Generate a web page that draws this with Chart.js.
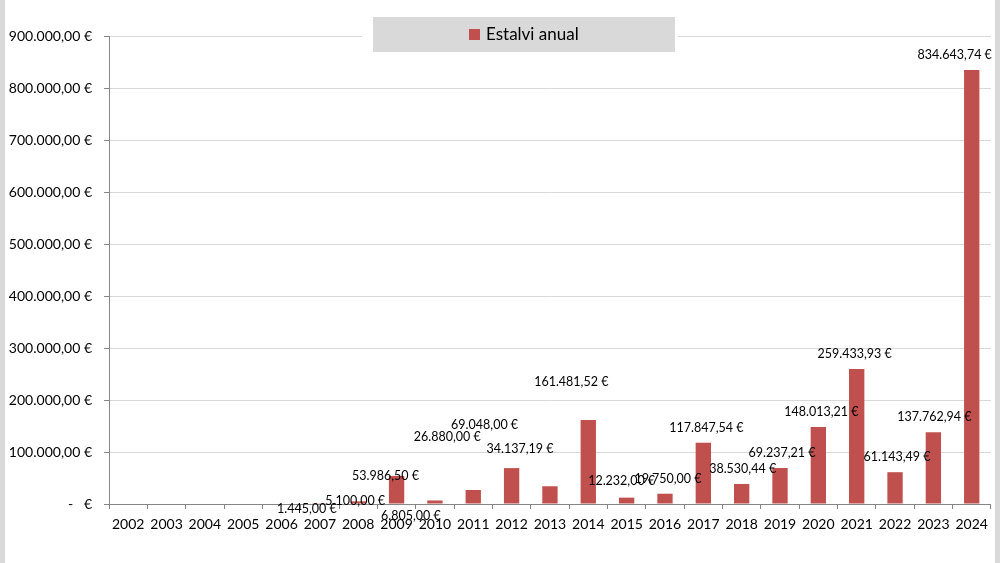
<!DOCTYPE html>
<html lang="ca">
<head>
  <meta charset="UTF-8" />
  <title>Estalvi anual</title>
  <script src="https://cdn.jsdelivr.net/npm/chart.js"></script>
  <style>
    html, body {
      margin: 0;
      padding: 0;
      background: #d9d9d9;
    }
    .wrap {
      position: absolute;
      left: 5px;
      top: 0;
      width: 990px;
      height: 563px;
      background: #ffffff;
    }
  </style>
</head>
<body>
  <div class="wrap">
    <canvas id="savingsChart" width="990" height="563"></canvas>
  </div>

  <script>
    const years = ['2002', '2003', '2004', '2005', '2006', '2007', '2008', '2009', '2010', '2011', '2012',
      '2013', '2014', '2015', '2016', '2017', '2018', '2019', '2020', '2021', '2022', '2023', '2024'];

    const savings = [null, null, null, null, null, 1445, 5100, 53986.5, 6805, 26880, 69048,
      34137.19, 161481.52, 12232, 19750, 117847.54, 38530.44, 69237.21, 148013.21, 259433.93,
      61143.49, 137762.94, 834643.74];

    const yTickValues = [0, 100000, 200000, 300000, 400000, 500000, 600000, 700000, 800000, 900000];

    const seriesName = 'Estalvi anual';

    // label nudges (px) - the labels were dragged around by hand in the original
    const labelShift = [[0, 0], [0, 0], [0, 0], [0, 0], [0, 0], [-13, 21], [-3, 15], [-11, 15], [-24, 31],
      [-26, -38], [-27, -28], [-30, -22], [-17, -23], [-5, -2], [3, 0], [3, 0], [1, 0], [2, 0], [3, 0],
      [-2, 0], [2, 0], [1, 0], [-17, 0]];

    const FONT = 'Lato, "Open Sans", sans-serif';

    function euro(v) {
      if (v === 0) return '-   €';
      const parts = v.toFixed(2).split('.');
      const intPart = parts[0].replace(/\B(?=(\d{3})+(?!\d))/g, '.');
      return intPart + ',' + parts[1] + ' €';
    }

    const dataLabels = {
      id: 'dataLabels',
      afterDatasetsDraw(chart) {
        const ctx = chart.ctx;
        const meta = chart.getDatasetMeta(0);
        ctx.save();
        ctx.font = '12.5px ' + FONT;
        ctx.fillStyle = '#000000';
        ctx.textAlign = 'center';
        ctx.textBaseline = 'middle';
        meta.data.forEach((bar, i) => {
          const v = savings[i];
          if (v === null) return;
          const s = labelShift[i];
          ctx.fillText(euro(v), bar.x + s[0], bar.y - 15 + s[1]);
        });
        ctx.restore();
      }
    };

    const legendBox = {
      id: 'legendBox',
      afterDraw(chart) {
        const ctx = chart.ctx;
        ctx.save();
        ctx.fillStyle = '#ffffff';
        ctx.fillRect(357, 28, 316, 14);
        ctx.fillStyle = '#d9d9d9';
        ctx.fillRect(368, 17, 302, 35);
        ctx.fillStyle = '#c0504d';
        ctx.fillRect(464, 29, 11, 11);
        ctx.fillStyle = '#000000';
        ctx.font = '17px ' + FONT;
        ctx.textBaseline = 'middle';
        ctx.textAlign = 'left';
        ctx.fillText(seriesName, 481, 35);
        ctx.restore();
      }
    };

    new Chart(document.getElementById('savingsChart'), {
      type: 'bar',
      data: {
        labels: years,
        datasets: [{
          label: seriesName,
          data: savings,
          backgroundColor: '#c0504d',
          categoryPercentage: 1,
          barPercentage: 0.4
        }]
      },
      options: {
        responsive: false,
        animation: false,
        layout: {
          padding: { top: 36, right: 2, bottom: 0, left: 0 }
        },
        plugins: {
          legend: { display: false },
          tooltip: { enabled: false }
        },
        scales: {
          x: {
            grid: {
              offset: true,
              drawOnChartArea: false,
              drawTicks: true,
              tickLength: 5,
              tickColor: '#868686'
            },
            border: { color: '#868686' },
            ticks: {
              color: '#000000',
              font: { family: FONT, size: 14 },
              padding: 7,
              maxRotation: 0,
              autoSkip: false
            },
            afterFit(scale) { scale.height = 59; }
          },
          y: {
            min: 0,
            max: 900000,
            afterBuildTicks(scale) {
              scale.ticks = yTickValues.map(v => ({ value: v }));
            },
            grid: {
              color: '#d9d9d9',
              tickColor: '#868686',
              tickLength: 5
            },
            border: { color: '#868686' },
            ticks: {
              color: '#000000',
              font: { family: FONT, size: 14 },
              padding: 12,
              callback: v => euro(v)
            },
            afterFit(scale) { scale.width = 104; }
          }
        }
      },
      plugins: [dataLabels, legendBox]
    });
  </script>
</body>
</html>
